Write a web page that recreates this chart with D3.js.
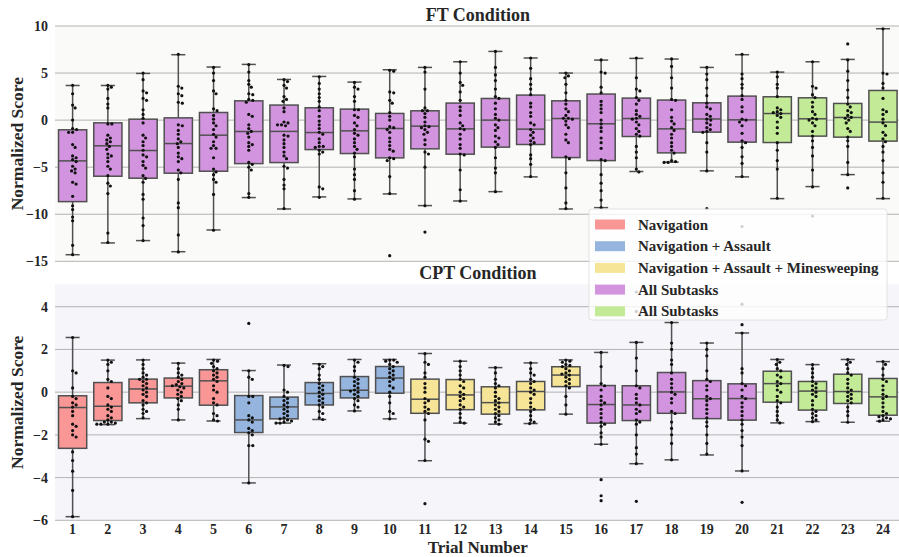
<!DOCTYPE html>
<html>
<head>
<meta charset="utf-8">
<script src="https://cdn.jsdelivr.net/npm/d3@7"></script>
<style>
  body { margin: 0; background: #fff; }
  text { font-family: "Liberation Serif", "Times New Roman", "DejaVu Serif", serif; font-weight: bold; fill: #262626; }
</style>
</head>
<body>
<div id="chart"></div>
<script>
// trial categories (x tick labels)
var trials = ["1","2","3","4","5","6","7","8","9","10","11","12",
              "13","14","15","16","17","18","19","20","21","22","23","24"];

var legendLabels = ["Navigation", "Navigation + Assault", "Navigation + Assault + Minesweeping",
                    "All Subtasks", "All Subtasks"];
var groupColors = ["#f99797", "#95b5df", "#f7e597", "#d294de", "#c3eb97"];

// subtask group (index into groupColors) for each trial
var ftGroup  = [3,3,3,3,3,3,3,3,3,3,3,3,3,3,3,3,3,3,3,3,4,4,4,4];
var cptGroup = [0,0,0,0,0,1,1,1,1,1,2,2,2,2,2,3,3,3,3,3,4,4,4,4];

var ftTicks  = [10, 5, 0, -5, -10, -15];
var cptTicks = [4, 2, 0, -2, -4, -6];

// FT condition box stats
var ftQ1  = [-8.66,-5.96,-6.17,-5.64,-5.43,-4.62,-4.51,-3.13,-3.55,-4.01,-3.05,-3.62,
             -2.87,-2.59,-3.98,-4.30,-1.74,-3.48,-1.28,-2.34,-2.38,-1.70,-1.81,-2.23];
var ftMed = [-4.33,-2.73,-3.23,-2.49,-1.60,-1.21,-1.20,-1.32,-1.14,-0.89,-0.64,-0.93,
              0.00,-0.96, 0.17,-0.39, 0.17,-0.93, 0.12, 0.03, 0.70, 0.14, 0.28,-0.21];
var ftQ3  = [-1.03,-0.29, 0.10, 0.24, 0.81, 2.05, 1.60, 1.31, 1.17, 0.71, 0.99, 1.81,
              2.30, 2.66, 2.05, 2.77, 2.34, 2.13, 1.84, 2.55, 2.48, 2.37, 1.77, 3.15];
var ftLo  = [-14.3,-13.05,-12.8,-13.98,-11.67,-8.23,-9.44,-8.16,-8.37,-7.84,-9.08,-8.59,
             -7.6,-6.03,-9.44,-9.3,-5.46,-4.47,-5.39,-6.03,-8.34,-7.06,-5.79,-8.34];
var ftHi  = [3.68, 3.68, 4.96, 6.95, 5.64, 5.92, 4.32, 4.64, 4.04, 5.35, 5.6, 6.2,
             7.3, 6.6, 5.0, 6.38, 6.56, 6.49, 5.6, 6.95, 5.1, 6.2, 6.45, 9.71];

var ftPoints = [
  [3.7,2.8,1.6,1.3,0.0,-0.9,-1.0,-1.3,-1.3,-2.6,-2.9,-3.8,-4.0,-4.2,-4.4,-4.9,-5.2,-5.4,-5.6,-6.6,-6.8,-8.1,-9.1,-9.5,-10.3,-10.7,-13.3,-14.3],
  [3.7,3.5,3.3,2.3,1.7,1.3,-0.4,-0.4,-1.6,-1.9,-2.1,-2.3,-2.5,-2.8,-3.1,-3.6,-3.8,-4.0,-4.4,-4.9,-5.2,-5.9,-6.7,-7.0,-7.8,-12.0,-13.0],
  [5.0,4.3,3.1,2.9,2.3,2.1,1.1,0.6,0.2,-0.3,-1.6,-1.9,-2.3,-2.7,-3.2,-3.7,-3.9,-4.4,-4.8,-5.1,-5.9,-6.2,-6.6,-7.9,-8.4,-10.4,-11.2,-12.8],
  [7.0,3.6,3.4,2.8,2.6,1.9,1.8,-0.5,-0.6,-1.1,-1.5,-2.0,-2.3,-2.5,-2.9,-3.5,-3.9,-4.1,-4.4,-5.3,-5.6,-6.3,-8.8,-9.3,-12.2,-14.0],
  [5.6,5.0,4.2,3.1,2.8,1.2,1.0,0.5,0.1,-0.3,-0.6,-1.0,-1.5,-1.8,-2.3,-2.7,-3.0,-3.0,-4.0,-5.2,-5.5,-5.8,-6.3,-6.6,-7.9,-11.7],
  [5.9,5.1,4.2,3.8,3.5,2.8,2.7,2.2,2.1,1.9,0.6,0.4,-0.5,-0.9,-1.2,-1.4,-1.8,-2.4,-2.6,-2.8,-3.2,-4.5,-4.7,-5.0,-5.3,-7.8,-8.2],
  [4.3,4.1,3.7,3.4,2.5,2.2,2.0,1.3,0.9,-0.2,-0.5,-0.6,-0.5,-0.3,-1.6,-1.7,-2.1,-2.5,-2.9,-3.4,-3.8,-4.1,-4.9,-5.1,-6.3,-6.9,-7.3,-9.4],
  [4.6,3.9,3.3,2.8,2.4,2.0,1.4,1.0,0.4,-0.1,-0.5,-0.9,-1.3,-1.5,-2.0,-2.4,-2.8,-2.8,-2.9,-3.2,-3.4,-3.6,-7.1,-7.3,-8.2],
  [4.0,3.5,3.3,2.5,2.0,1.1,1.1,0.5,0.3,-0.3,-0.6,-1.0,-1.4,-1.6,-2.0,-2.4,-2.8,-3.1,-3.5,-3.9,-5.2,-5.8,-6.3,-7.5,-8.4],
  [5.3,5.2,3.0,2.9,2.1,1.8,0.8,0.4,0.0,-0.7,-0.8,-1.0,-1.3,-1.9,-2.3,-2.7,-3.1,-3.3,-4.0,-4.1,-4.3,-6.0,-7.8,-14.4],
  [5.6,5.1,3.3,1.3,1.0,1.0,0.7,0.3,-0.2,-0.6,-0.7,-0.8,-1.0,-1.3,-1.5,-2.1,-2.6,-3.4,-3.6,-5.0,-9.1,-11.9],
  [6.2,5.0,4.0,3.7,3.0,2.1,1.4,1.0,0.5,-0.3,-0.6,-0.9,-1.0,-1.5,-2.0,-2.6,-3.0,-3.6,-3.7,-5.3,-7.4,-8.6],
  [7.3,5.6,4.8,4.2,3.3,2.5,2.3,1.8,1.2,0.6,0.2,0.0,-0.5,-0.8,-1.1,-1.7,-1.9,-2.3,-2.6,-2.9,-4.0,-5.1,-5.6,-7.6],
  [6.6,5.5,4.4,3.8,3.3,2.7,1.8,1.4,0.8,0.4,-0.3,-0.5,-1.0,-1.3,-1.6,-1.9,-2.2,-2.4,-2.6,-3.7,-4.1,-4.7,-6.0],
  [5.0,4.7,4.5,3.8,2.9,2.1,1.7,1.2,0.9,0.5,0.2,0.2,0.1,-0.1,-0.5,-0.8,-1.5,-2.1,-2.4,-3.9,-4.1,-5.6,-7.2,-8.8,-9.4],
  [6.4,5.1,5.0,3.5,2.9,2.0,1.6,1.2,0.8,0.0,-0.4,-0.8,-1.2,-1.9,-2.4,-3.0,-4.2,-4.3,-5.8,-6.7,-7.5,-8.5,-9.3],
  [6.6,4.5,3.3,3.1,2.4,2.1,1.7,1.0,0.6,0.4,0.2,0.1,-0.2,-0.5,-0.9,-1.2,-1.5,-1.7,-2.8,-3.4,-4.0,-5.2,-5.5],
  [6.5,5.7,4.5,3.4,2.2,2.1,1.1,0.3,-0.1,-0.4,-0.8,-1.1,-1.5,-1.9,-2.4,-2.8,-3.2,-3.5,-4.3,-4.4,-4.5,-4.5],
  [5.6,4.9,4.3,3.4,2.6,1.8,1.4,1.2,0.6,0.4,0.1,0.0,-0.3,-0.5,-0.8,-1.0,-1.2,-1.3,-2.4,-3.4,-5.4,-9.4],
  [7.0,4.9,4.4,3.8,3.4,2.6,2.2,1.4,0.9,0.1,0.0,-0.2,-0.6,-1.4,-2.2,-2.4,-2.9,-3.9,-4.6,-6.0,-11.3],
  [5.1,4.6,3.8,3.4,2.5,1.3,1.1,0.9,0.8,0.7,0.5,0.3,-0.2,-0.8,-1.4,-2.4,-3.2,-4.3,-5.2,-8.3],
  [6.2,3.6,3.4,2.7,2.4,1.9,1.4,0.9,0.6,0.2,0.1,0.0,-0.3,-0.6,-1.2,-1.7,-2.2,-2.9,-3.8,-5.3,-7.1,-10.2],
  [8.1,6.4,5.2,4.2,3.2,2.4,1.7,1.4,1.0,0.8,0.5,0.3,0.2,0.0,-0.3,-0.9,-1.2,-1.8,-2.2,-2.8,-4.5,-5.8,-7.2],
  [9.7,5.0,4.9,3.9,3.4,2.3,1.1,0.9,0.6,0.1,-0.3,-0.6,-1.3,-1.6,-2.0,-2.3,-2.8,-3.4,-4.3,-5.6,-6.6,-8.3]
];

// CPT condition box stats
var cptQ1  = [-2.63,-1.33,-0.50,-0.27,-0.61,-1.89,-1.25,-0.60,-0.27,-0.05,-0.99,-0.82,
              -1.03,-0.83, 0.26,-1.45,-1.33,-0.99,-1.24,-1.31,-0.47,-0.84,-0.53,-1.08];
var cptMed = [-0.72,-0.66, 0.15, 0.28, 0.53,-1.30,-0.69,-0.06, 0.09, 0.66,-0.33,-0.13,
              -0.49, 0.03, 0.80,-0.58,-0.60, 0.01,-0.31,-0.30, 0.40, 0.05, 0.03,-0.22];
var cptQ3  = [-0.17, 0.45, 0.61, 0.66, 1.05,-0.16,-0.23, 0.45, 0.73, 1.20, 0.61, 0.59,
               0.25, 0.50, 1.19, 0.31, 0.30, 0.92, 0.54, 0.39, 0.98, 0.50, 0.84, 0.64];
var cptLo  = [-5.83,-1.52,-1.24,-1.30,-1.35,-4.25,-1.45,-1.28,-0.88,-1.25,-3.21,-1.45,
              -1.50,-1.47,-1.03,-2.44,-3.35,-3.17,-2.94,-3.69,-1.44,-1.38,-1.41,-1.36];
var cptHi  = [2.56, 1.50, 1.51, 1.36, 1.53, 1.01, 1.27, 1.33, 1.53, 1.53, 1.81, 1.45,
              1.15, 1.37, 1.51, 1.86, 2.33, 3.26, 2.30, 2.77, 1.53, 1.29, 1.53, 1.43];

var cptPoints = [
  [2.56,1.0,0.9,0.2,-0.2,-0.3,-0.5,-0.6,-0.7,-0.9,-1.1,-1.5,-1.6,-1.8,-2.0,-2.1,-2.8,-3.2,-3.7,-4.6,-5.83],
  [1.5,1.4,1.3,1.0,0.6,0.5,0.2,-0.2,-0.3,-0.6,-0.7,-0.8,-0.9,-1.1,-1.2,-1.3,-1.4,-1.4,-1.45,-1.5,-1.5,-1.5],
  [1.5,1.3,1.1,0.9,0.8,0.7,0.6,0.6,0.5,0.4,0.3,0.2,0.1,0.0,-0.1,-0.2,-0.4,-0.5,-0.6,-0.8,-0.9,-1.0,-1.2],
  [1.35,1.1,0.9,0.8,0.7,0.6,0.5,0.4,0.35,0.3,0.25,0.2,0.1,0.0,-0.1,-0.2,-0.3,-0.4,-0.6,-0.8,-1.3],
  [1.5,1.45,1.35,1.2,1.1,1.0,0.9,0.8,0.7,0.6,0.5,0.3,0.1,0.0,-0.3,-0.5,-0.6,-1.0,-1.1,-1.3,-1.35],
  [3.22,1.0,0.7,0.6,-0.2,-0.2,-0.5,-1.1,-1.2,-1.3,-1.4,-1.7,-1.8,-1.9,-2.0,-2.5,-2.5,-4.25],
  [1.25,1.2,0.1,0.0,-0.2,-0.3,-0.4,-0.5,-0.6,-0.7,-0.8,-0.9,-1.0,-1.1,-1.2,-1.25,-1.3,-1.35,-1.4,-1.45,-1.45],
  [1.3,1.2,1.1,0.8,0.6,0.4,0.3,0.2,0.1,0.0,-0.1,-0.2,-0.3,-0.4,-0.5,-0.6,-0.7,-0.9,-1.0,-1.2,-1.28],
  [1.5,1.4,1.2,1.0,0.7,0.6,0.5,0.4,0.3,0.2,0.1,0.05,0.0,-0.1,-0.2,-0.3,-0.4,-0.6,-0.7,-0.88],
  [1.5,1.5,1.45,1.4,1.3,1.2,1.1,1.0,0.9,0.8,0.7,0.6,0.5,0.3,0.2,0.0,-0.2,-0.5,-0.9,-1.0,-1.25],
  [1.8,1.4,1.3,0.9,0.7,0.4,0.2,0.0,-0.3,-0.4,-0.5,-0.7,-0.8,-0.9,-1.0,-1.3,-2.2,-2.3,-3.2,-5.22],
  [1.45,1.2,1.0,0.8,0.6,0.5,0.3,0.2,0.0,-0.1,-0.2,-0.3,-0.4,-0.6,-0.7,-0.8,-1.0,-1.2,-1.4,-1.45],
  [1.15,0.9,0.6,0.4,0.3,0.2,0.0,-0.2,-0.3,-0.4,-0.5,-0.6,-0.7,-0.8,-0.9,-1.0,-1.1,-1.2,-1.3,-1.4,-1.5],
  [1.37,1.1,0.9,0.8,0.6,0.5,0.4,0.2,0.1,0.0,-0.1,-0.3,-0.5,-0.7,-0.8,-0.9,-1.1,-1.3,-1.4,-1.47],
  [1.5,1.45,1.4,1.3,1.25,1.2,1.1,1.0,0.9,0.85,0.8,0.7,0.6,0.5,0.4,0.3,0.2,-0.2,-0.6,-1.03],
  [1.86,1.2,0.4,0.3,0.1,-0.2,-0.4,-0.5,-0.6,-0.8,-1.0,-1.2,-1.4,-1.5,-1.6,-1.9,-2.1,-2.44,-4.1,-4.85,-5.08],
  [4.69,3.78,2.33,1.6,1.0,0.3,0.2,-0.1,-0.3,-0.5,-0.6,-0.8,-0.9,-1.0,-1.3,-1.4,-1.5,-2.0,-2.6,-2.9,-3.35,-5.11],
  [3.26,2.3,2.0,1.5,1.3,0.9,0.6,0.4,0.2,0.0,-0.1,-0.3,-0.5,-0.9,-1.0,-1.4,-1.7,-2.0,-2.4,-3.17],
  [2.3,2.0,1.7,1.0,0.6,0.5,0.3,0.1,-0.2,-0.3,-0.4,-0.6,-0.8,-1.0,-1.2,-1.4,-1.6,-2.0,-2.4,-2.9],
  [4.12,3.16,2.77,1.1,0.9,0.4,0.3,0.1,-0.2,-0.3,-0.5,-0.7,-0.9,-1.1,-1.3,-1.5,-1.8,-2.1,-2.5,-3.69,-5.16],
  [1.53,1.4,1.3,1.1,1.0,0.8,0.7,0.5,0.4,0.3,0.1,0.0,-0.2,-0.4,-0.5,-0.7,-0.9,-1.1,-1.3,-1.44],
  [1.29,1.1,0.9,0.7,0.5,0.4,0.3,0.2,0.1,0.0,-0.1,-0.2,-0.4,-0.6,-0.8,-0.9,-1.0,-1.1,-1.2,-1.3,-1.38],
  [1.53,1.4,1.3,1.1,0.9,0.8,0.6,0.4,0.2,0.1,0.0,-0.1,-0.2,-0.3,-0.4,-0.5,-0.7,-0.9,-1.1,-1.41],
  [1.43,1.3,1.1,0.8,0.6,0.5,0.3,0.1,-0.1,-0.2,-0.3,-0.5,-0.7,-0.9,-1.0,-1.1,-1.15,-1.2,-1.25,-1.3,-1.36]
];

var w = 899, h = 557;
var left = 55, right = 900.6;
var edge = "#505050";
var ptR = 1.6;
var serif = "'Liberation Serif', 'Times New Roman', 'DejaVu Serif', serif";

function fmt(d){
	return d < 0 ? "\u2212" + Math.abs(d) : "" + d;
}

// greedy beeswarm: returns x offsets for each value
function swarm(vals, y){
	var pts = vals.map(function(v){ return {v: v, py: y(v), dx: 0}; })
		.sort(function(a, b){ return a.py - b.py; });
	var placed = [];
	var dmin = 2 * ptR + 0.5;
	pts.forEach(function(p){
		for (var k = 0; k < 400; k++){
			var off = (k % 2 === 1 ? 1 : -1) * Math.ceil(k / 2) * 0.5;
			var ok = true;
			for (var j = 0; j < placed.length; j++){
				var q = placed[j];
				var dy = q.py - p.py, dx = q.dx - off;
				if (dx * dx + dy * dy < dmin * dmin){ ok = false; break; }
			}
			if (ok){ p.dx = off; break; }
		}
		placed.push(p);
	});
	return pts;
}

function drawPanel(svg, cfg){
	var x = d3.scaleBand().domain(trials).range([left, right]).padding(0);
	var y = d3.scaleLinear().domain(cfg.domain).range([cfg.bottom, cfg.top]);
	var bw = x.bandwidth() * 0.8;
	var capW = bw * 0.5;
	var g = svg.append("g");

	g.append("rect")
		.attr("x", left).attr("y", cfg.top)
		.attr("width", w - left).attr("height", cfg.bottom - cfg.top)
		.attr("fill", cfg.bg);

	// grid
	g.append("g")
		.selectAll("line")
		.data(cfg.ticks)
		.enter()
		.append("line")
		.attr("x1", left).attr("x2", w)
		.attr("y1", function(d){ return y(d); })
		.attr("y2", function(d){ return y(d); })
		.attr("stroke", "#b3b3b3")
		.attr("stroke-width", 1);

	var yAxis = g.append("g")
		.attr("transform", "translate(" + left + ",0)")
		.call(d3.axisLeft(y).tickValues(cfg.ticks).tickSize(0).tickPadding(7).tickFormat(fmt));
	yAxis.select(".domain").remove();
	yAxis.attr("font-family", serif);
	yAxis.selectAll("text").style("font-size", "14px").attr("fill", "#262626");

	g.append("text")
		.attr("transform", "translate(23," + ((cfg.top + cfg.bottom) / 2) + ") rotate(-90)")
		.attr("text-anchor", "middle")
		.style("font-size", "17.5px")
		.text("Normalized Score");

	g.append("text")
		.attr("x", (left + right) / 2)
		.attr("y", cfg.top - 5)
		.attr("text-anchor", "middle")
		.style("font-size", "18px")
		.text(cfg.title);

	var items = trials.map(function(t, i){
		return {t: t, q1: cfg.q1[i], med: cfg.med[i], q3: cfg.q3[i], lo: cfg.lo[i], hi: cfg.hi[i], grp: cfg.group[i], pts: cfg.points[i]};
	});

	var box = g.selectAll(".box")
		.data(items)
		.enter()
		.append("g")
		.attr("class", "box");

	// whiskers
	box.append("line")
		.attr("x1", function(d){ return x(d.t) + x.bandwidth() / 2; })
		.attr("x2", function(d){ return x(d.t) + x.bandwidth() / 2; })
		.attr("y1", function(d){ return y(d.q3); })
		.attr("y2", function(d){ return y(d.hi); })
		.attr("stroke", edge).attr("stroke-width", 1.5);
	box.append("line")
		.attr("x1", function(d){ return x(d.t) + x.bandwidth() / 2; })
		.attr("x2", function(d){ return x(d.t) + x.bandwidth() / 2; })
		.attr("y1", function(d){ return y(d.q1); })
		.attr("y2", function(d){ return y(d.lo); })
		.attr("stroke", edge).attr("stroke-width", 1.5);
	box.append("line")
		.attr("x1", function(d){ return x(d.t) + x.bandwidth() / 2 - capW / 2; })
		.attr("x2", function(d){ return x(d.t) + x.bandwidth() / 2 + capW / 2; })
		.attr("y1", function(d){ return y(d.hi); })
		.attr("y2", function(d){ return y(d.hi); })
		.attr("stroke", edge).attr("stroke-width", 1.5);
	box.append("line")
		.attr("x1", function(d){ return x(d.t) + x.bandwidth() / 2 - capW / 2; })
		.attr("x2", function(d){ return x(d.t) + x.bandwidth() / 2 + capW / 2; })
		.attr("y1", function(d){ return y(d.lo); })
		.attr("y2", function(d){ return y(d.lo); })
		.attr("stroke", edge).attr("stroke-width", 1.5);

	box.append("rect")
		.attr("x", function(d){ return x(d.t) + (x.bandwidth() - bw) / 2; })
		.attr("y", function(d){ return y(d.q3); })
		.attr("width", bw)
		.attr("height", function(d){ return y(d.q1) - y(d.q3); })
		.attr("fill", function(d){ return groupColors[d.grp]; })
		.attr("stroke", edge).attr("stroke-width", 1.5);

	box.append("line")
		.attr("x1", function(d){ return x(d.t) + (x.bandwidth() - bw) / 2; })
		.attr("x2", function(d){ return x(d.t) + (x.bandwidth() + bw) / 2; })
		.attr("y1", function(d){ return y(d.med); })
		.attr("y2", function(d){ return y(d.med); })
		.attr("stroke", edge).attr("stroke-width", 1.5);

	// swarm points
	box.each(function(d){
		var cx = x(d.t) + x.bandwidth() / 2;
		d3.select(this).selectAll("circle")
			.data(swarm(d.pts, y))
			.enter()
			.append("circle")
			.attr("cx", function(p){ return cx + p.dx; })
			.attr("cy", function(p){ return p.py; })
			.attr("r", ptR)
			.attr("fill", "#111");
	});

	if (cfg.xAxis){
		var xAxis = g.append("g")
			.attr("transform", "translate(0," + cfg.bottom + ")")
			.call(d3.axisBottom(x).tickSize(0).tickPadding(4));
		xAxis.select(".domain").remove();
		xAxis.attr("font-family", serif);
		xAxis.selectAll("text").style("font-size", "14px").attr("fill", "#262626");
		g.append("text")
			.attr("x", (left + right) / 2)
			.attr("y", 553)
			.attr("text-anchor", "middle")
			.style("font-size", "17px")
			.text("Trial Number");
	}
}

function init(){
	var svg = d3.select("#chart")
		.append("svg")
		.attr("width", w)
		.attr("height", h);

	drawPanel(svg, {
		title: "FT Condition", top: 26, bottom: 261.3, domain: [-15, 10], ticks: ftTicks,
		q1: ftQ1, med: ftMed, q3: ftQ3, lo: ftLo, hi: ftHi, group: ftGroup, points: ftPoints,
		bg: "#fafaf8", xAxis: false
	});
	drawPanel(svg, {
		title: "CPT Condition", top: 284.3, bottom: 520.3, domain: [-6, 5.05], ticks: cptTicks,
		q1: cptQ1, med: cptMed, q3: cptQ3, lo: cptLo, hi: cptHi, group: cptGroup, points: cptPoints,
		bg: "#f5f5fa", xAxis: true
	});

	// legend
	var lg = svg.append("g").attr("transform", "translate(589,209)");
	lg.append("rect")
		.attr("width", 298).attr("height", 111)
		.attr("rx", 3)
		.attr("fill", "#fff").attr("fill-opacity", 0.8)
		.attr("stroke", "#dcdcdc").attr("stroke-opacity", 0.8);
	var row = lg.selectAll(".row")
		.data(legendLabels)
		.enter()
		.append("g")
		.attr("class", "row")
		.attr("transform", function(d, i){ return "translate(6," + (10.5 + i * 21.7) + ")"; });
	row.append("rect")
		.attr("width", 30).attr("height", 10)
		.attr("fill", function(d, i){ return groupColors[i]; });
	row.append("text")
		.attr("x", 43).attr("y", 10)
		.style("font-size", "15px")
		.text(function(d){ return d; });
}

window.onload = init;
</script>
</body>
</html>
